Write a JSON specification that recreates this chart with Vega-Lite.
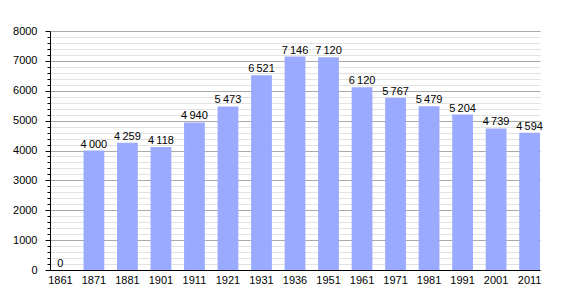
{
  "$schema": "https://vega.github.io/schema/vega-lite/v6.json",
  "autosize": "none",
  "width": 490,
  "height": 239,
  "padding": {"left": 50, "top": 31, "right": 30, "bottom": 30},
  "background": "white",
  "config": {
    "view": {"stroke": null},
    "font": "Liberation Sans",
    "locale": {"number": {"decimal": ",", "thousands": "\u2009", "grouping": [3], "currency": ["", ""]}}
  },
  "data": {"values": [
    {"year": "1861", "pop": 0},
    {"year": "1871", "pop": 4000},
    {"year": "1881", "pop": 4259},
    {"year": "1901", "pop": 4118},
    {"year": "1911", "pop": 4940},
    {"year": "1921", "pop": 5473},
    {"year": "1931", "pop": 6521},
    {"year": "1936", "pop": 7146},
    {"year": "1951", "pop": 7120},
    {"year": "1961", "pop": 6120},
    {"year": "1971", "pop": 5767},
    {"year": "1981", "pop": 5479},
    {"year": "1991", "pop": 5204},
    {"year": "2001", "pop": 4739},
    {"year": "2011", "pop": 4594}
  ]},
  "encoding": {
    "x": {"field": "year", "type": "ordinal", "sort": null,
      "scale": {"paddingInner": 0.38, "paddingOuter": 0},
      "axis": {"title": null, "labelAngle": 0, "ticks": false, "domainColor": "black", "labelColor": "black", "labelFontSize": 11, "labelPadding": 4, "grid": false}},
    "y": {"field": "pop", "type": "quantitative",
      "scale": {"domain": [0, 8000], "nice": false},
      "axis": {"title": null,
        "values": [0,200,400,600,800,1000,1200,1400,1600,1800,2000,2200,2400,2600,2800,3000,3200,3400,3600,3800,4000,4200,4400,4600,4800,5000,5200,5400,5600,5800,6000,6200,6400,6600,6800,7000,7200,7400,7600,7800,8000],
        "labelExpr": "datum.value % 1000 === 0 ? datum.value : ''",
        "grid": true,
        "gridColor": {"condition": {"test": "datum.value % 1000 === 0", "value": "#aaaaaa"}, "value": "#e2e2e2"},
        "domainColor": "black",
        "tickColor": "black",
        "tickSize": {"condition": {"test": "datum.value % 1000 === 0", "value": 5}, "value": 3},
        "labelColor": "black",
        "labelFontSize": 11,
        "labelPadding": 8}}
  },
  "layer": [
    {"mark": {"type": "bar", "color": "#99aaff"}},
    {"mark": {"type": "text", "baseline": "bottom", "dy": -1, "fontSize": 11, "color": "black"},
     "encoding": {"text": {"field": "pop", "type": "quantitative", "format": ",d"}}}
  ]
}
